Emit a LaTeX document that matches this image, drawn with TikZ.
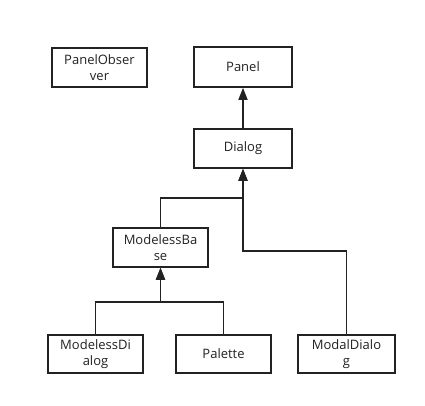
\documentclass[tikz,border=0pt]{standalone}
\usepackage{fontspec}
\setmainfont{Open Sans}
\usetikzlibrary{arrows.meta}
\definecolor{ink}{HTML}{222222}
\tikzset{
  cls/.style={draw=ink, line width=1.6pt, fill=white, minimum width=95pt, minimum height=39pt,
    inner sep=0pt, align=center, font=\fontsize{13}{16}\selectfont, text=ink},
  inh/.style={draw=ink, line width=1.6pt, -{Triangle[width=9pt,length=12pt]}},
}
\begin{document}
\begin{tikzpicture}[x=1pt,y=-1pt]
\useasboundingbox (0,0) rectangle (425,406);
\node[cls] (obs) at (99.5,67.5) {PanelObser\\ver};
\node[cls, minimum width=98pt, minimum height=40pt] (panel) at (243,67) {Panel};
\node[cls, minimum width=98pt] (dialog) at (243,148.5) {Dialog};
\node[cls] (mbase) at (160.5,247.5) {ModelessBa\\se};
\node[cls, minimum height=38pt] (mdialog) at (95.5,354) {ModelessDi\\alog};
\node[cls, minimum height=38pt] (palette) at (223.5,354) {Palette};
\node[cls, minimum width=97pt, minimum height=38pt] (modal) at (346.5,354) {ModalDialo\\g};
\coordinate (j1) at (243,198);
\coordinate (j2) at (243,251);
\coordinate (j3) at (160.5,302);
\draw[inh] (dialog) -- (panel);
\draw[inh] (mbase.north) |- (j1) -- (dialog.south);
\draw[inh] (modal.north) |- (j2) -- (dialog.south);
\draw[inh] (mdialog.north) |- (j3) -- (mbase.south);
\draw[inh] (palette.north) |- (j3) -- (mbase.south);
\end{tikzpicture}
\end{document}
